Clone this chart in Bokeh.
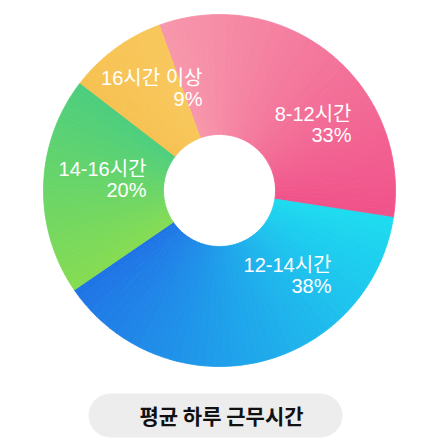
import math
from bokeh.plotting import figure
from bokeh.models import Range1d, ColumnDataSource, BoxAnnotation
from bokeh.core.properties import value
from bokeh.embed import file_html
from bokeh.resources import INLINE

# ---- data ----
categories = ["8-12시간", "12-14시간", "14-16시간", "16시간 이상"]
percents = [33, 38, 20, 9]
title_text = "평균 하루 근무시간"

# ---- styling ----
grad_colors = [
    ((247, 152, 172), (240, 82, 138)),   # pink: top -> right
    ((30, 220, 240), (32, 116, 230)),    # blue: right -> left
    ((134, 220, 82), (76, 206, 126)),    # green: bottom -> top
    ((246, 193, 80), (248, 199, 92)),    # yellow
]
label_anchor = [(351, 113), (331, 264), (146, 168), (202, 77)]  # pixel positions (right edge, name line)
line_gap = 21
LABEL_FONT = "Liberation Sans, Noto Sans CJK KR"

W, H = 430, 441
p = figure(width=W, height=H, output_backend="svg", toolbar_location=None,
           x_range=Range1d(0, W), y_range=Range1d(0, H), min_border=0)
p.axis.visible = False
p.grid.visible = False
p.outline_line_color = None
p.background_fill_color = "white"
p.border_fill_color = "white"

cx, cy = 219, H - 190
r_out, r_in = 176, 56
start_deg = 110.0
steps = 48

xs, ys, sa, ea, cols = [], [], [], [], []
cur = start_deg
total = sum(percents)
for i, pct in enumerate(percents):
    span = 360.0 * pct / total
    c0, c1 = grad_colors[i]
    for k in range(steps):
        t = (k + 0.5) / steps
        a_hi = cur - span * k / steps
        a_lo = cur - span * (k + 1) / steps
        col = tuple(int(round(c0[j] + (c1[j] - c0[j]) * t)) for j in range(3))
        sa.append(math.radians(a_lo))
        ea.append(math.radians(a_hi))
        cols.append("#%02x%02x%02x" % col)
        xs.append(cx)
        ys.append(cy)
    cur -= span

src = ColumnDataSource(dict(x=xs, y=ys, start=sa, end=ea, color=cols))
p.annular_wedge(x="x", y="y", inner_radius=r_in, outer_radius=r_out,
                start_angle="start", end_angle="end", fill_color="color",
                line_color="color", line_width=0.8, source=src)

# labels
name_src = ColumnDataSource(dict(
    x=[a[0] for a in label_anchor],
    y=[H - a[1] for a in label_anchor],
    t=categories))
pct_src = ColumnDataSource(dict(
    x=[a[0] for a in label_anchor],
    y=[H - a[1] - line_gap for a in label_anchor],
    t=["%d%%" % v for v in percents]))
for s in (name_src, pct_src):
    p.text(x="x", y="y", text="t", source=s, text_align="right",
           text_baseline="middle", text_color="white",
           text_font=value(LABEL_FONT), text_font_size="20px",
           text_font_style="normal")

# bottom pill title
p.add_layout(BoxAnnotation(left=88, right=342, bottom=H - 437, top=H - 393,
                           fill_color="#ededed", fill_alpha=1.0, line_color=None,
                           border_radius=22, level="underlay"))
p.text(x=[221], y=[H - 414], text=[title_text], text_align="center",
       text_baseline="middle", text_color="#111111",
       text_font=value("Noto Sans CJK KR"), text_font_size="21px",
       text_font_style="bold")

open("out.html", "w").write(file_html(p, INLINE))
